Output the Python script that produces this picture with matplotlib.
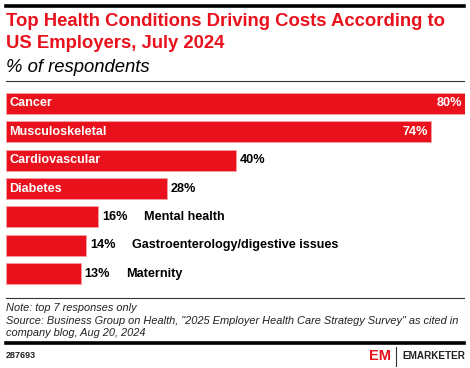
import matplotlib
matplotlib.use("Agg")
import matplotlib.pyplot as plt
from matplotlib.lines import Line2D

categories = ["Cancer", "Musculoskeletal", "Cardiovascular", "Diabetes",
              "Mental health", "Gastroenterology/digestive issues", "Maternity"]
values = [80, 74, 40, 28, 16, 14, 13]
value_labels = ["80%", "74%", "40%", "28%", "16%", "14%", "13%"]

RED = "#E8111C"
W, H = 470, 368
plt.rcParams['font.family'] = ['Liberation Sans', 'DejaVu Sans']

fig = plt.figure(figsize=(W / 100, H / 100), dpi=100)

def fx(px):
    return px / W

def fy(py):
    return 1 - py / H

# header lines
fig.add_artist(Line2D([fx(6), fx(464)], [fy(6), fy(6)], color="black", lw=2.6))
fig.text(fx(6), fy(22), "Top Health Conditions Driving Costs According to", color=RED,
         fontsize=13.3, fontweight="bold", va="center", ha="left")
fig.text(fx(6), fy(43), "US Employers, July 2024", color=RED,
         fontsize=13.3, fontweight="bold", va="center", ha="left")
fig.text(fx(6), fy(67), "% of respondents", color="black",
         fontsize=13.3, fontstyle="italic", va="center", ha="left")
fig.add_artist(Line2D([fx(6), fx(464)], [fy(81), fy(81)], color="#333333", lw=0.8))

# chart axes
top_px, bot_px = 89.3, 287.7
ax = fig.add_axes([fx(6), fy(bot_px), fx(465) - fx(6), (bot_px - top_px) / H])
n = len(categories)
ys = list(range(n))
ax.barh(ys, values, height=0.74, color=RED, edgecolor="#F4A0A4", linewidth=0.6)
ax.set_xlim(0, 80)
ax.set_ylim(n - 0.5, -0.5)
ax.axis("off")

FS = 9.1
px_per_unit = 459 / 80
for i, (c, v, lab) in enumerate(zip(categories, values, value_labels)):
    if v >= 60:
        ax.text(3 / px_per_unit, i, c, color="white", fontsize=FS,
                fontweight="bold", va="center", ha="left")
        ax.text(v - 3 / px_per_unit, i, lab, color="white", fontsize=FS,
                fontweight="bold", va="center", ha="right")
    elif v >= 25:
        ax.text(3 / px_per_unit, i, c, color="white", fontsize=FS,
                fontweight="bold", va="center", ha="left")
        ax.text(v + 4 / px_per_unit, i, lab, color="black", fontsize=FS,
                fontweight="bold", va="center", ha="left")
    else:
        ax.text(v + 4 / px_per_unit, i, lab, color="black", fontsize=FS,
                fontweight="bold", va="center", ha="left")
        ax.text(v + 46 / px_per_unit, i, c, color="black", fontsize=FS,
                fontweight="bold", va="center", ha="left")

# footer
fig.add_artist(Line2D([fx(6), fx(464)], [fy(298), fy(298)], color="#333333", lw=0.8))
FN = 7.95
fig.text(fx(6), fy(308), "Note: top 7 responses only", fontsize=FN,
         fontstyle="italic", va="center", ha="left", color="#222222")
fig.text(fx(6), fy(321), "Source: Business Group on Health, \"2025 Employer Health Care Strategy Survey\" as cited in",
         fontsize=FN, fontstyle="italic", va="center", ha="left", color="#222222")
fig.text(fx(6), fy(333), "company blog, Aug 20, 2024", fontsize=FN,
         fontstyle="italic", va="center", ha="left", color="#222222")
fig.add_artist(Line2D([fx(6), fx(464)], [fy(343), fy(343)], color="black", lw=2.6))
fig.text(fx(6), fy(356), "287693", fontsize=6.5, fontweight="bold",
         va="center", ha="left", color="#222222")

# logo
fig.text(fx(369), fy(356), "EM", fontsize=10.5, fontweight="bold", color=RED,
         va="center", ha="left")
fig.add_artist(Line2D([fx(396), fx(396)], [fy(347), fy(366)], color="#333333", lw=0.8))
fig.text(fx(402), fy(356), "EMARKETER", fontsize=7.2, fontweight="bold",
         color="#222222", va="center", ha="left")

fig.savefig("out.png", dpi=100, facecolor="white")
